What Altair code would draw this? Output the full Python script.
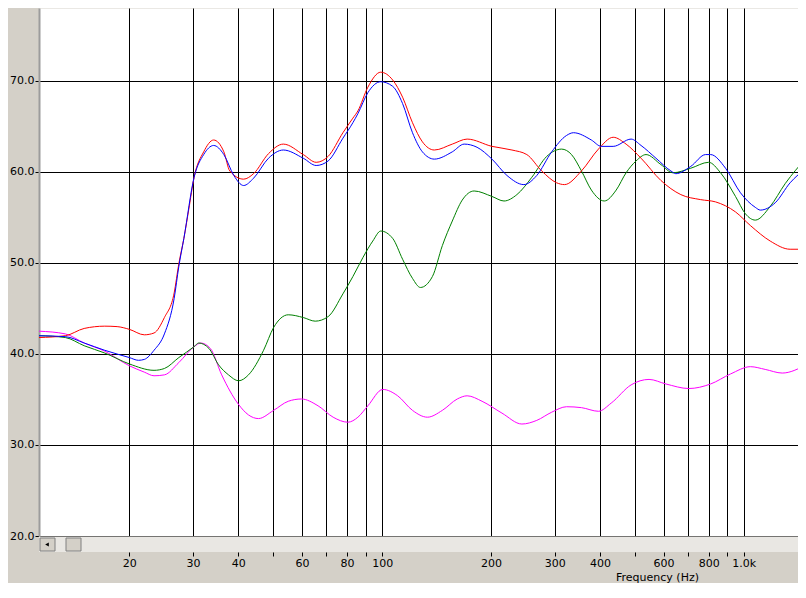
import altair as alt
import pandas as pd

# ---- data (frequency in Hz, level in dB) ----
red_hz = [11.25, 13.3, 15.0, 17.1, 18.5, 20.0, 22.0, 23.4, 25.0, 26.6, 27.4, 28.3, 29.2, 30.2, 32.1, 34.2,
          36.5, 37.9, 41.4, 44.1, 48.5, 53.3, 60.5, 65.7, 70.9, 77.9, 83.0, 85.7, 91.3, 99.1, 106.9, 113.9,
          121.3, 129.2, 139.4, 156.3, 171.8, 201.2, 228.5, 251.2, 276.2, 303.7, 319.4, 355.7, 396.3, 435.3,
          472.6, 519.8, 590.0, 669.7, 759.8, 835.6, 948.5, 1043, 1183, 1343, 1486]
red_db = [41.8, 42.0, 42.8, 43.05, 43.0, 42.7, 42.1, 42.3, 44.0, 46.7, 49.9, 52.7, 55.9, 59.4, 62.2, 63.5,
          62.2, 60.1, 59.2, 59.8, 62.0, 63.05, 61.9, 61.05, 61.7, 64.3, 65.9, 66.7, 69.3, 70.95, 70.1, 68.2,
          65.4, 63.3, 62.4, 63.05, 63.6, 62.8, 62.4, 61.9, 60.1, 58.8, 58.6, 60.1, 62.5, 63.8,
          63.05, 61.5, 59.05, 57.5, 56.95, 56.7, 55.6, 54.1, 52.4, 51.5, 51.5]

blue_hz = [11.25, 13.3, 15.0, 17.1, 20.0, 21.2, 22.0, 23.4, 25.0, 26.6, 27.4, 28.3, 30.2, 32.1, 34.2, 36.5,
           38.9, 41.4, 44.1, 48.5, 53.3, 60.5, 65.7, 70.9, 77.9, 83.0, 85.7, 91.3, 99.1, 106.9, 113.9, 121.3,
           129.2, 139.4, 156.3, 168.6, 183.0, 201.2, 221.4, 246.5, 267.6, 294.3, 323.5, 338.1, 378.9, 403.6,
           435.3, 487.9, 519.8, 571.6, 628.6, 648.8, 713.4, 784.3, 809.5, 890.3, 979.1, 1076, 1111, 1221,
           1343, 1486]
blue_db = [42.0, 41.9, 41.2, 40.4, 39.6, 39.3, 39.4, 40.4, 42.2, 46.1, 49.6, 52.7, 59.4, 61.9, 62.9, 61.9,
           59.6, 58.5, 59.3, 61.5, 62.4, 61.5, 60.7, 61.2, 63.7, 65.4, 66.4, 68.7, 69.9, 69.4, 67.5, 64.3,
           62.2, 61.4, 62.2, 63.05, 62.7, 61.4, 59.6, 58.6, 59.6, 62.2, 64.0, 64.3, 63.5, 62.8,
           62.8, 63.6, 62.9, 61.5, 60.1, 59.8, 60.6, 61.9, 61.9, 60.4, 57.7, 56.1, 55.8, 56.6,
           58.8, 60.4]

green_hz = [11.25, 13.3, 15.0, 17.1, 20.0, 23.4, 25.0, 27.4, 30.2, 31.1, 33.2, 35.3, 37.6, 40.1, 42.7, 47.0,
            50.1, 55.0, 60.5, 65.3, 70.9, 77.9, 83.0, 88.5, 94.2, 99.1, 106.9, 113.9, 121.3, 127.6, 137.7,
            146.7, 156.3, 166.5, 179.6, 201.2, 217.2, 235.8, 259.3, 285.1, 313.5, 333.9, 355.7, 378.9, 411.3,
            443.7, 472.6, 503.6, 536.6, 590.0, 636.5, 713.4, 799.3, 862.5, 948.5, 1010, 1076, 1183, 1301, 1486]
green_db = [42.0, 41.8, 40.9, 40.1, 38.9, 38.2, 38.4, 39.6, 40.8, 41.2, 40.6, 38.8, 37.7, 37.05, 37.7, 40.4,
            42.9, 44.3, 44.0, 43.6, 44.1, 46.6, 48.5, 50.6, 52.4, 53.5, 52.7, 50.4, 48.3, 47.3, 48.5,
            51.9, 54.6, 56.9, 57.9, 57.3, 56.8, 57.5, 59.4, 61.7, 62.5, 61.9, 60.1, 58.0, 56.8,
            58.0, 59.9, 61.2, 61.9, 60.8, 59.9, 60.4, 61.05, 59.9, 57.3, 55.4, 54.7, 56.2, 58.7, 61.5]

magenta_hz = [11.25, 13.3, 15.0, 17.1, 20.0, 22.0, 23.4, 25.0, 27.4, 30.2, 31.5, 33.5, 36.0, 40.0, 42.7,
              45.5, 50.1, 55.0, 59.8, 66.5, 73.2, 80.4, 85.7, 91.3, 100.4, 110.4, 121.3, 133.4, 146.7,
              161.3, 171.8, 188.9, 214.4, 243.4, 267.6, 294.3, 323.5, 355.7, 396.3, 429.9, 487.9, 546.9,
              609.0, 704.5, 809.5, 918.9, 1043, 1146, 1277, 1486]
magenta_db = [42.5, 42.2, 41.2, 40.3, 38.7, 38.0, 37.6, 37.7, 39.05, 40.8, 41.2, 40.6, 37.7, 34.5, 33.3,
              32.9, 33.8, 34.8, 35.05, 34.3, 33.05, 32.5, 33.05, 34.3, 36.1, 35.4, 33.8, 33.05, 33.8,
              35.05, 35.4, 34.8, 33.5, 32.3, 32.7, 33.6, 34.2, 34.1, 33.7, 34.6, 36.6, 37.2,
              36.7, 36.2, 36.7, 37.8, 38.6, 38.3, 37.9, 38.8]

series_names = ["magenta", "green", "red", "blue"]
series_colors = ["#ff00ff", "#008000", "#ff0000", "#0000ff"]

x_ticks = [20, 30, 40, 50, 60, 70, 80, 90, 100, 200, 300, 400, 500, 600, 700, 800, 900, 1000]
x_tick_labels = ["20", "30", "40", "", "60", "", "80", "", "100", "200", "300", "400", "", "600", "",
                 "800", "", "1.0k"]
y_ticks = [20, 30, 40, 50, 60, 70]

# ---- build table ----
frames = []
for name, hz, db in [("magenta", magenta_hz, magenta_db), ("green", green_hz, green_db),
                     ("red", red_hz, red_db), ("blue", blue_hz, blue_db)]:
    frames.append(pd.DataFrame({"hz": hz, "db": db, "series": name}))
df = pd.concat(frames, ignore_index=True)

label_expr = ""
for v, lab in zip(x_ticks, x_tick_labels):
    label_expr += f"datum.value == {v} ? '{lab}' : "
label_expr += "''"

LEFT = 31
W, H = 790 - LEFT, 528
SB = 16
FONT = "DejaVu Sans"

x_scale = alt.Scale(type="log", domain=[11.25, 1412], nice=False)
y_scale = alt.Scale(domain=[20, 78], nice=False, zero=False)

lines = alt.Chart(df).mark_line(strokeWidth=1, interpolate="monotone", clip=True).encode(
    x=alt.X("hz:Q", scale=x_scale,
            axis=alt.Axis(values=x_ticks, labelExpr=label_expr, grid=True, gridColor="black",
                          gridOpacity=1, gridWidth=1, domain=False, ticks=True, tickSize=4,
                          tickColor="black", offset=SB, labelPadding=1, labelOverlap=False,
                          labelFlush=False, labelBound=False, labelFont=FONT, labelFontSize=11,
                          labelColor="black", title="Frequency (Hz)", titleX=618, titleY=19,
                          titleAlign="center", titleBaseline="top", titleFont=FONT,
                          titleFontSize=11, titleFontWeight="normal", titleColor="black")),
    y=alt.Y("db:Q", scale=y_scale,
            axis=alt.Axis(values=y_ticks, format=".1f", grid=True, gridColor="black", gridOpacity=1,
                          gridWidth=1, domainColor="#9c9c9c", domainWidth=2, tickSize=4,
                          tickColor="black", labelPadding=1, labelFont=FONT, labelFontSize=11,
                          labelColor="black", title=None)),
    color=alt.Color("series:N", scale=alt.Scale(domain=series_names, range=series_colors), legend=None),
)

one = pd.DataFrame({"k": [0]})
track = alt.Chart(one).mark_rect(color="#e9e7e3").encode(
    x=alt.value(0), x2=alt.value(W), y=alt.value(H + 0.5), y2=alt.value(H + SB))
button = alt.Chart(one).mark_rect(fill="#d4d0c8", stroke="#808080", strokeWidth=1).encode(
    x=alt.value(1), x2=alt.value(16), y=alt.value(H + 2), y2=alt.value(H + 15))
thumb = alt.Chart(one).mark_rect(fill="#d4d0c8", stroke="#808080", strokeWidth=1).encode(
    x=alt.value(27), x2=alt.value(42), y=alt.value(H + 2), y2=alt.value(H + 15))
arrow = alt.Chart(one).mark_point(shape="triangle-left", filled=True, size=18, color="black",
                                  opacity=1).encode(x=alt.value(8), y=alt.value(H + 8.5))

chart = alt.layer(track, button, thumb, arrow, lines).properties(
    width=W, height=H,
    autosize=alt.AutoSizeParams(type="none"),
    padding={"left": LEFT, "top": 0, "right": 0, "bottom": 47},
    background="#d4d0c8",
).configure_view(fill="white", stroke="transparent")

chart.save("out.html", embed_options={"renderer": "svg", "actions": False})
